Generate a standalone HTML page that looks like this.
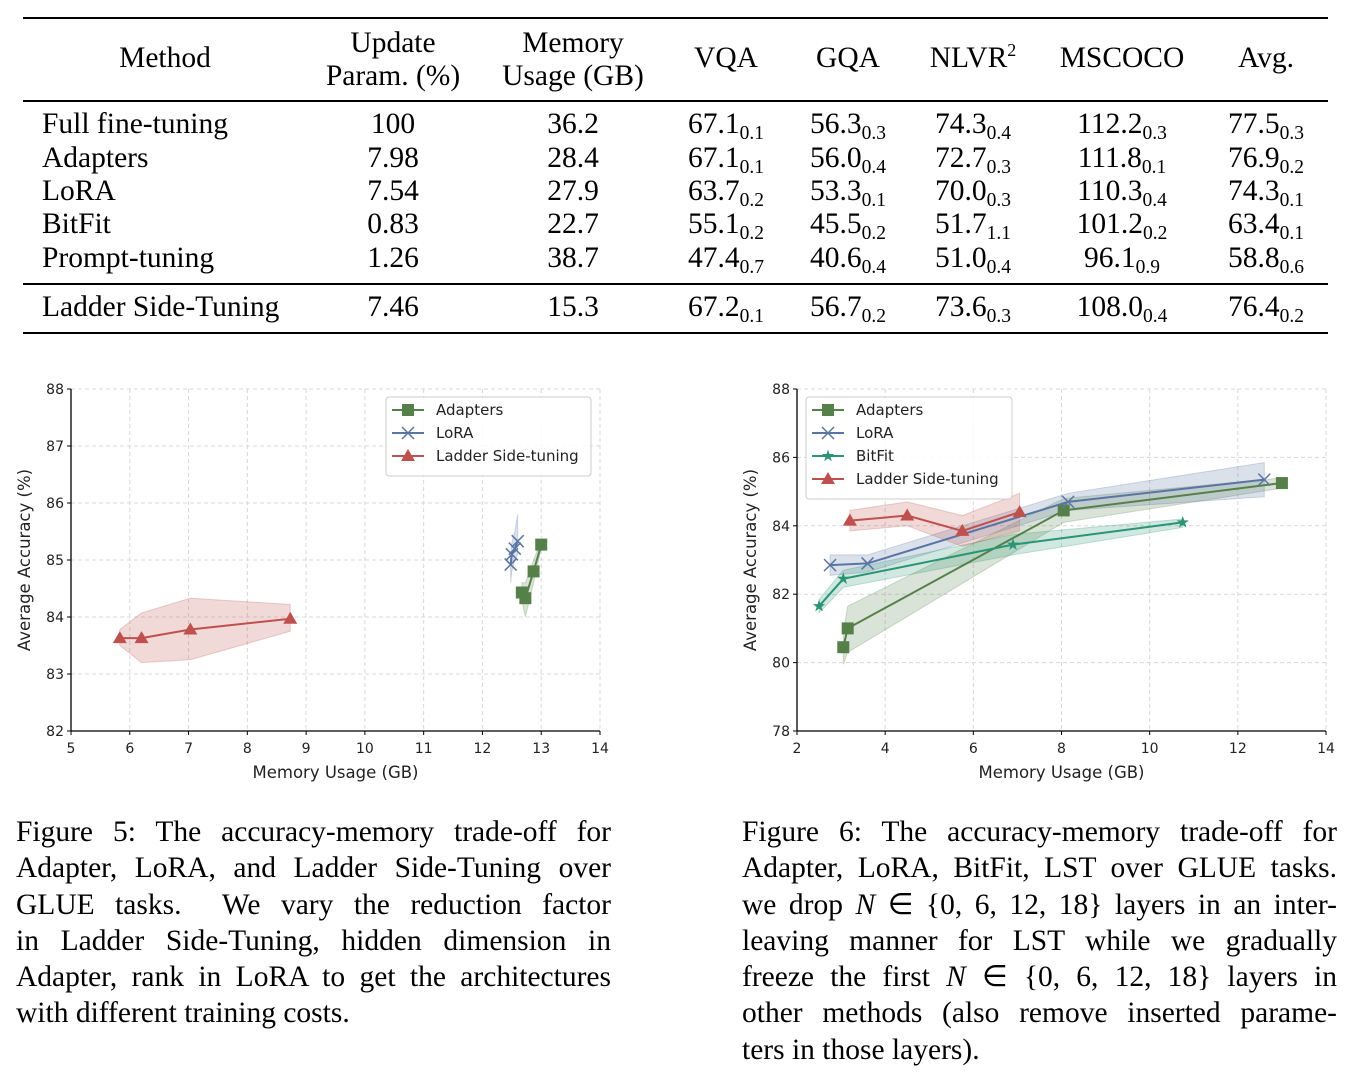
<!DOCTYPE html>
<html><head><meta charset="utf-8">
<style>
body{margin:0;width:1366px;height:1080px;background:#fff;position:relative;overflow:hidden;font-family:"Liberation Serif",serif;color:#000}
.t{position:absolute;font-size:29.5px;white-space:nowrap;line-height:1}
.c{transform:translateX(-50%);text-align:center}
.rule{position:absolute;left:23px;width:1305px;background:#000}
sub{font-size:19.5px;vertical-align:-6px;line-height:0}
sup{font-size:18px;vertical-align:11px;line-height:0}
.cap{position:absolute;font-size:29.5px;line-height:36.3px;width:595px}
.cap div{text-align:justify;text-align-last:justify;white-space:nowrap;height:36.3px}
.cap div.last{text-align-last:left}
svg text{font-family:"DejaVu Sans",sans-serif}
</style></head><body>
<div>
<div class="rule" style="top:17px;height:2px"></div>
<div class="rule" style="top:100px;height:1.5px"></div>
<div class="rule" style="top:283px;height:1.5px"></div>
<div class="rule" style="top:332px;height:2px"></div>
<div class="t c" style="left:165px;top:44px">Method</div>
<div class="t c" style="left:393px;top:27px;line-height:33px">Update<br>Param. (%)</div>
<div class="t c" style="left:573px;top:27px;line-height:33px">Memory<br>Usage (GB)</div>
<div class="t c" style="left:726px;top:44px">VQA</div>
<div class="t c" style="left:848px;top:44px">GQA</div>
<div class="t c" style="left:973px;top:44px">NLVR<sup>2</sup></div>
<div class="t c" style="left:1122px;top:44px">MSCOCO</div>
<div class="t c" style="left:1266px;top:44px">Avg.</div>
<div id="rows"></div>
</div>
<script>
const rowNames=["Full fine-tuning","Adapters","LoRA","BitFit","Prompt-tuning","Ladder Side-Tuning"];
const rowTops=[110,144,177,210,244,293];
const rowData=[
["100","36.2",["67.1","0.1"],["56.3","0.3"],["74.3","0.4"],["112.2","0.3"],["77.5","0.3"]],
["7.98","28.4",["67.1","0.1"],["56.0","0.4"],["72.7","0.3"],["111.8","0.1"],["76.9","0.2"]],
["7.54","27.9",["63.7","0.2"],["53.3","0.1"],["70.0","0.3"],["110.3","0.4"],["74.3","0.1"]],
["0.83","22.7",["55.1","0.2"],["45.5","0.2"],["51.7","1.1"],["101.2","0.2"],["63.4","0.1"]],
["1.26","38.7",["47.4","0.7"],["40.6","0.4"],["51.0","0.4"],["96.1","0.9"],["58.8","0.6"]],
["7.46","15.3",["67.2","0.1"],["56.7","0.2"],["73.6","0.3"],["108.0","0.4"],["76.4","0.2"]]];
const colX=[393,573,726,848,973,1122,1266];
const rowsEl=document.getElementById('rows');
rowNames.forEach((n,i)=>{
 const d=document.createElement('div');d.className='t';d.style.left='42px';d.style.top=rowTops[i]+'px';d.textContent=n;
 
 
 rowsEl.appendChild(d);
 rowData[i].forEach((v,j)=>{
  const e=document.createElement('div');e.className='t c';e.style.left=colX[j]+'px';e.style.top=rowTops[i]+'px';
  if(Array.isArray(v)){e.innerHTML=v[0]+'<sub>'+v[1]+'</sub>';}else e.textContent=v;
  
  
  rowsEl.appendChild(e);
 });
});
</script>

<svg id="charts" width="1366" height="800" style="position:absolute;left:0;top:0"></svg>

<div class="cap" style="left:16px;top:814px">
<div>Figure 5: The accuracy-memory trade-off for</div>
<div>Adapter, LoRA, and Ladder Side-Tuning over</div>
<div>GLUE tasks.&nbsp; We vary the reduction factor</div>
<div>in Ladder Side-Tuning, hidden dimension in</div>
<div>Adapter, rank in LoRA to get the architectures</div>
<div class="last">with different training costs.</div>
</div>
<div class="cap" style="left:742px;top:814px">
<div>Figure 6: The accuracy-memory trade-off for</div>
<div>Adapter, LoRA, BitFit, LST over GLUE tasks.</div>
<div>we drop <i>N</i> ∈ {0, 6, 12, 18} layers in an inter-</div>
<div>leaving manner for LST while we gradually</div>
<div>freeze the first <i>N</i> ∈ {0, 6, 12, 18} layers in</div>
<div>other methods (also remove inserted parame-</div>
<div class="last">ters in those layers).</div>
</div>

<script>
// Figure 5 data
const f5xTicks=[5,6,7,8,9,10,11,12,13,14];
const f5yTicks=[82,83,84,85,86,87,88];
const f5LstX=[5.83,6.2,7.03,8.73];
const f5LstY=[83.63,83.63,83.78,83.97];
const f5LstLo=[83.5,83.2,83.25,83.75];
const f5LstHi=[83.78,84.07,84.33,84.22];
const f5AdpX=[12.67,12.73,12.87,13.0];
const f5AdpY=[84.43,84.33,84.8,85.27];
const f5AdpLo=[84.3,84.0,84.6,85.2];
const f5AdpHi=[84.6,84.6,85.0,85.35];
const f5LoraX=[12.48,12.5,12.55,12.6];
const f5LoraY=[84.92,85.1,85.2,85.33];
const f5LoraLo=[84.6,84.8,85.0,85.1];
const f5LoraHi=[85.1,85.3,85.5,85.8];
// Figure 6 data
const f6xTicks=[2,4,6,8,10,12,14];
const f6yTicks=[78,80,82,84,86,88];
const f6AdpX=[3.05,3.15,8.05,13.0];
const f6AdpY=[80.45,81.0,84.45,85.25];
const f6AdpLo=[79.95,80.3,84.1,85.1];
const f6AdpHi=[80.9,81.65,84.8,85.4];
const f6LoraX=[2.75,3.6,8.15,12.6];
const f6LoraY=[82.85,82.9,84.7,85.35];
const f6LoraLo=[82.55,82.65,84.45,84.85];
const f6LoraHi=[83.15,83.15,84.95,85.85];
const f6BitX=[2.5,3.05,6.9,10.75];
const f6BitY=[81.65,82.45,83.45,84.1];
const f6BitLo=[81.45,82.2,83.15,83.95];
const f6BitHi=[81.85,82.7,83.75,84.2];
const f6LstX=[3.2,4.5,5.75,7.05];
const f6LstY=[84.15,84.3,83.85,84.4];
const f6LstLo=[83.85,84.0,83.4,83.85];
const f6LstHi=[84.45,84.7,84.3,84.95];

const NS='http://www.w3.org/2000/svg';
const svg=document.getElementById('charts');
function el(tag,attrs,parent){const e=document.createElementNS(NS,tag);for(const k in attrs)e.setAttribute(k,attrs[k]);(parent||svg).appendChild(e);return e;}
const GREEN='#55804a',BLUE='#5975a4',TEAL='#2a9474',RED='#c0504d';

function chart(cfg){
 const g=el('g',{});
 
 
 const X=v=>cfg.px0+(v-cfg.x0)/(cfg.x1-cfg.x0)*(cfg.px1-cfg.px0);
 const Y=v=>cfg.py0+(v-cfg.y0)/(cfg.y1-cfg.y0)*(cfg.py1-cfg.py0);
 cfg.xt.forEach(t=>{
  if(t!==cfg.x0){const l=el('line',{x1:X(t),x2:X(t),y1:cfg.py1,y2:cfg.py0,stroke:'#d8d8d8','stroke-dasharray':'4,3','stroke-width':1},g);
  }
  el('line',{x1:X(t),x2:X(t),y1:cfg.py0,y2:cfg.py0+4,stroke:'#000'},g);
  const tx=el('text',{x:X(t),y:cfg.py0+22,'text-anchor':'middle','font-size':14,fill:'#222'},g);tx.textContent=t;
  
 });
 cfg.yt.forEach(t=>{
  if(t!==cfg.y0){const l=el('line',{x1:cfg.px0,x2:cfg.px1,y1:Y(t),y2:Y(t),stroke:'#d8d8d8','stroke-dasharray':'4,3','stroke-width':1},g);
  }
  el('line',{x1:cfg.px0-4,x2:cfg.px0,y1:Y(t),y2:Y(t),stroke:'#000'},g);
  const tx=el('text',{x:cfg.px0-7,y:Y(t)+5,'text-anchor':'end','font-size':14,fill:'#222'},g);tx.textContent=t;
  
 });
 el('line',{x1:cfg.px0,x2:cfg.px0,y1:cfg.py1,y2:cfg.py0,stroke:'#000','stroke-width':1.3},g);
 el('line',{x1:cfg.px0,x2:cfg.px1,y1:cfg.py0,y2:cfg.py0,stroke:'#000','stroke-width':1.3},g);
 const xl=el('text',{x:(cfg.px0+cfg.px1)/2,y:cfg.py0+47,'text-anchor':'middle','font-size':16.5,fill:'#222'},g);xl.textContent='Memory Usage (GB)';
 
 const cy=(cfg.py0+cfg.py1)/2;
 const yl=el('text',{x:cfg.ylx,y:cy,'text-anchor':'middle','font-size':16.5,fill:'#222',transform:`rotate(-90 ${cfg.ylx} ${cy})`},g);yl.textContent='Average Accuracy (%)';
 
 cfg.series.forEach(s=>{
  const pts=s.x.map((v,i)=>X(v)+','+Y(s.hi[i])).concat(s.x.map((v,i)=>X(v)+','+Y(s.lo[i])).reverse());
  const b=el('polygon',{points:pts.join(' '),fill:s.color,'fill-opacity':0.22,stroke:s.color,'stroke-opacity':0.25},g);
  
 });
 cfg.series.forEach(s=>{
  const p=el('polyline',{points:s.x.map((v,i)=>X(v)+','+Y(s.y[i])).join(' '),fill:'none',stroke:s.color,'stroke-width':2},g);
  
  s.x.forEach((v,i)=>{const m=marker(s.m,X(v),Y(s.y[i]),s.color,g);
   });
 });
 const lg=el('g',{},g);
 
 el('rect',{x:cfg.lx,y:cfg.ly,width:cfg.lw,height:cfg.series.length*23+10,rx:3,fill:'#fff','fill-opacity':0.85,stroke:'#ccc'},lg);
 cfg.legendOrder.forEach((idx,i)=>{const s=cfg.series[idx];const yy=cfg.ly+13+i*23;
  const e=el('g',{},lg);
  
  el('line',{x1:cfg.lx+6,x2:cfg.lx+38,y1:yy,y2:yy,stroke:s.color,'stroke-width':2},e);
  marker(s.m,cfg.lx+22,yy,s.color,e);
  const t=el('text',{x:cfg.lx+50,y:yy+5,'font-size':15,fill:'#222'},e);t.textContent=s.label;
 });
}
function marker(type,x,y,c,g){
 if(type==='s')return el('rect',{x:x-6,y:y-6,width:12,height:12,fill:c},g);
 if(type==='t')return el('polygon',{points:`${x},${y-7} ${x-7},${y+5} ${x+7},${y+5}`,fill:c},g);
 if(type==='x')return el('path',{d:`M${x-6},${y-6}L${x+6},${y+6}M${x-6},${y+6}L${x+6},${y-6}`,stroke:c,'stroke-width':1.5},g);
 let p=[];for(let k=0;k<10;k++){const r=k%2?2.5:6.5,a=-Math.PI/2+k*Math.PI/5;p.push((x+r*Math.cos(a))+','+(y+r*Math.sin(a)));}
 return el('polygon',{points:p.join(' '),fill:c},g);
}
chart({name:'figure5-chart',x0:5,x1:14,y0:82,y1:88,px0:71,px1:600,py0:731,py1:389,xt:f5xTicks,yt:f5yTicks,ylx:30,
 lx:386,ly:397,lw:205,legendOrder:[1,2,0],
 series:[
 {key:'ladder',label:'Ladder Side-tuning',color:RED,m:'t',x:f5LstX,y:f5LstY,lo:f5LstLo,hi:f5LstHi},
 {key:'adapters',label:'Adapters',color:GREEN,m:'s',x:f5AdpX,y:f5AdpY,lo:f5AdpLo,hi:f5AdpHi},
 {key:'lora',label:'LoRA',color:BLUE,m:'x',x:f5LoraX,y:f5LoraY,lo:f5LoraLo,hi:f5LoraHi}]});
chart({name:'figure6-chart',x0:2,x1:14,y0:78,y1:88,px0:797,px1:1326,py0:731,py1:389,xt:f6xTicks,yt:f6yTicks,ylx:756,
 lx:806,ly:397,lw:206,legendOrder:[0,1,2,3],
 series:[
 {key:'adapters',label:'Adapters',color:GREEN,m:'s',x:f6AdpX,y:f6AdpY,lo:f6AdpLo,hi:f6AdpHi},
 {key:'lora',label:'LoRA',color:BLUE,m:'x',x:f6LoraX,y:f6LoraY,lo:f6LoraLo,hi:f6LoraHi},
 {key:'bitfit',label:'BitFit',color:TEAL,m:'*',x:f6BitX,y:f6BitY,lo:f6BitLo,hi:f6BitHi},
 {key:'ladder',label:'Ladder Side-tuning',color:RED,m:'t',x:f6LstX,y:f6LstY,lo:f6LstLo,hi:f6LstHi}]});
</script>
</body></html>
